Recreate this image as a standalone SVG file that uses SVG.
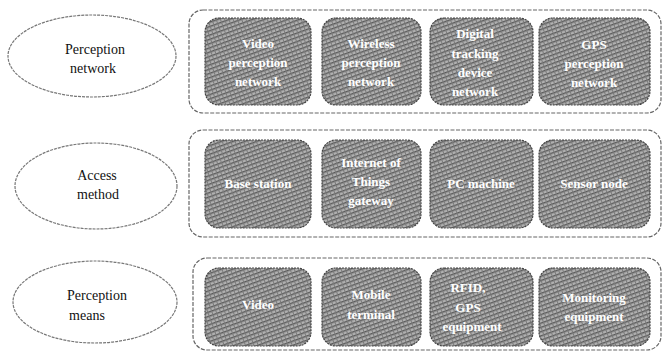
<svg xmlns="http://www.w3.org/2000/svg" width="668" height="354" viewBox="0 0 668 354">
<style>
.ell{fill:#ffffff;stroke:#777;stroke-width:1.2;stroke-dasharray:3 1}
.cont{fill:none;stroke:#666;stroke-width:1.2;stroke-dasharray:4 1.5}
.box{fill:url(#ht);stroke:#444;stroke-width:1.2;stroke-dasharray:2 1}
.lbl{font-family:"Liberation Serif",serif;font-size:14px;fill:#111;text-anchor:middle}
.bt{font-family:"Liberation Serif",serif;font-size:13px;font-weight:bold;fill:#ffffff;text-anchor:middle}
</style>
<defs>
<pattern id="ht" width="4" height="4" patternUnits="userSpaceOnUse" patternTransform="rotate(-20)">
<rect width="4" height="4" fill="#b0b0b0"/>
<rect width="4" height="1.4" fill="#5a5a5a"/>
<rect x="0" y="0" width="1" height="4" fill="#7a7a7a"/>
</pattern>
</defs>
<rect width="668" height="354" fill="#ffffff"/>

<g id="connectors"></g>

<g id="row1-label"><ellipse class="ell" cx="92" cy="56" rx="84" ry="41"/><text class="lbl" x="95" y="54">Perception</text><text class="lbl" x="93" y="73">network</text></g>
<g id="row2-label"><ellipse class="ell" cx="96" cy="186" rx="81" ry="43"/><text class="lbl" x="97" y="180">Access</text><text class="lbl" x="98" y="199">method</text></g>
<g id="row3-label"><ellipse class="ell" cx="95" cy="302" rx="82" ry="41"/><text class="lbl" x="97" y="300">Perception</text><text class="lbl" x="87" y="320">means</text></g>

<g id="row1"><rect class="cont" x="189" y="10" width="472" height="103" rx="14"/>
<g id="n-video-net"><rect class="box" x="205" y="18" width="106" height="87" rx="14"/><text class="bt" x="258" y="48">Video</text><text class="bt" x="258" y="67">perception</text><text class="bt" x="258" y="86">network</text></g>
<g id="n-wireless-net"><rect class="box" x="322" y="18" width="99" height="87" rx="14"/><text class="bt" x="371" y="48">Wireless</text><text class="bt" x="371" y="67">perception</text><text class="bt" x="371" y="86">network</text></g>
<g id="n-digital-net"><rect class="box" x="430" y="18" width="103" height="87" rx="14"/><text class="bt" x="475" y="38">Digital</text><text class="bt" x="475" y="58">tracking</text><text class="bt" x="475" y="77">device</text><text class="bt" x="475" y="96">network</text></g>
<g id="n-gps-net"><rect class="box" x="539" y="18" width="111" height="87" rx="14"/><text class="bt" x="594" y="49">GPS</text><text class="bt" x="594" y="68">perception</text><text class="bt" x="594" y="87">network</text></g>
</g>

<g id="row2"><rect class="cont" x="189" y="130" width="472" height="107" rx="14"/>
<g id="n-base"><rect class="box" x="205" y="140" width="106" height="88" rx="14"/><text class="bt" x="258" y="188">Base station</text></g>
<g id="n-iot"><rect class="box" x="322" y="140" width="99" height="88" rx="14"/><text class="bt" x="371" y="167">Internet of</text><text class="bt" x="371" y="186">Things</text><text class="bt" x="371" y="205">gateway</text></g>
<g id="n-pc"><rect class="box" x="430" y="140" width="103" height="88" rx="14"/><text class="bt" x="481" y="188">PC machine</text></g>
<g id="n-sensor"><rect class="box" x="539" y="140" width="111" height="88" rx="14"/><text class="bt" x="594" y="188">Sensor node</text></g>
</g>

<g id="row3"><rect class="cont" x="193" y="258" width="468" height="92" rx="14"/>
<g id="n-video"><rect class="box" x="205" y="268" width="106" height="78" rx="14"/><text class="bt" x="258" y="309">Video</text></g>
<g id="n-mobile"><rect class="box" x="322" y="268" width="99" height="78" rx="14"/><text class="bt" x="371" y="299">Mobile</text><text class="bt" x="371" y="319">terminal</text></g>
<g id="n-rfid"><rect class="box" x="430" y="268" width="103" height="78" rx="14"/><text class="bt" x="468" y="292">RFID,</text><text class="bt" x="468" y="312">GPS</text><text class="bt" x="472" y="331">equipment</text></g>
<g id="n-monitor"><rect class="box" x="539" y="268" width="111" height="78" rx="14"/><text class="bt" x="594" y="302">Monitoring</text><text class="bt" x="594" y="321">equipment</text></g>
</g>
</svg>
